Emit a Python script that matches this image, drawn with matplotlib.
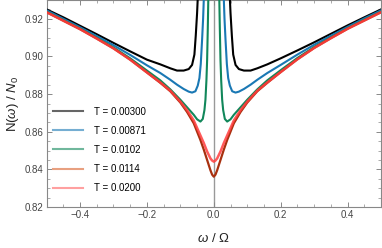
import numpy as np
import matplotlib
matplotlib.use("Agg")
import matplotlib.pyplot as plt
from matplotlib.lines import Line2D
from matplotlib.ticker import MultipleLocator

plt.rcParams['font.family'] = ['Liberation Sans', 'DejaVu Sans']
plt.rcParams['mathtext.fontset'] = 'custom'
plt.rcParams['mathtext.rm'] = 'Liberation Sans'
plt.rcParams['mathtext.it'] = 'Liberation Sans:italic'

# temperatures in the legend
labels = ["T = 0.00300", "T = 0.00871", "T = 0.0102", "T = 0.0114", "T = 0.0200"]
line_colors = ["#000000", "#1a78b4", "#11875a", "#a8300f", "#ff3d3d"]

# values (nan = curve leaves the plot between the peaks)
w_black = [-0.5, -0.45, -0.4, -0.35, -0.3, -0.25, -0.2, -0.16, -0.13, -0.11, -0.09,
           -0.075, -0.065, -0.058, -0.054, -0.05, -0.047, 0.0,
           0.047, 0.05, 0.054, 0.058, 0.065, 0.075, 0.09, 0.11, 0.13, 0.16,
           0.2, 0.25, 0.3, 0.35, 0.4, 0.45, 0.5]
n_black = [0.9250, 0.9208, 0.9163, 0.9118, 0.9072, 0.9027, 0.8983, 0.8958, 0.8937, 0.8925, 0.8925,
           0.8933, 0.8955, 0.9010, 0.9110, 0.9230, 0.9350, np.nan,
           0.9350, 0.9230, 0.9110, 0.9010, 0.8955, 0.8933, 0.8925, 0.8925, 0.8937, 0.8958,
           0.8990, 0.9032, 0.9075, 0.9120, 0.9165, 0.9208, 0.9250]

w_blue = [-0.5, -0.45, -0.4, -0.35, -0.3, -0.25, -0.2, -0.16, -0.13, -0.11, -0.09,
          -0.075, -0.065, -0.055, -0.048, -0.043, -0.039, -0.035, -0.032, -0.029, 0.0,
          0.029, 0.032, 0.035, 0.039, 0.043, 0.048, 0.055, 0.065, 0.075, 0.09,
          0.11, 0.13, 0.16, 0.2, 0.25, 0.3, 0.35, 0.4, 0.45, 0.5]
n_blue = [0.9245, 0.9200, 0.9155, 0.9108, 0.9060, 0.9008, 0.8953, 0.8912, 0.8876, 0.8850, 0.8827,
          0.8813, 0.8808, 0.8815, 0.8845, 0.8885, 0.8960, 0.9090, 0.9200, 0.9350, np.nan,
          0.9350, 0.9200, 0.9090, 0.8960, 0.8885, 0.8845, 0.8815, 0.8808, 0.8813, 0.8827,
          0.8850, 0.8876, 0.8912, 0.8955, 0.9010, 0.9062, 0.9110, 0.9157, 0.9202, 0.9245]

w_green = [-0.5, -0.45, -0.4, -0.35, -0.3, -0.25, -0.2, -0.16, -0.13, -0.1, -0.08,
           -0.06, -0.05, -0.04, -0.033, -0.028, -0.025, -0.022, -0.02, -0.018, -0.016, 0.0,
           0.016, 0.018, 0.02, 0.022, 0.025, 0.028, 0.033, 0.04, 0.05, 0.06,
           0.08, 0.1, 0.13, 0.16, 0.2, 0.25, 0.3, 0.35, 0.4, 0.45, 0.5]
n_green = [0.9238, 0.9193, 0.9148, 0.9099, 0.9048, 0.8990, 0.8925, 0.8873, 0.8825, 0.8770, 0.8730,
           0.8690, 0.8666, 0.8654, 0.8668, 0.8715, 0.8770, 0.8876, 0.8980, 0.9150, 0.9350, np.nan,
           0.9350, 0.9150, 0.8980, 0.8876, 0.8770, 0.8715, 0.8668, 0.8654, 0.8666, 0.8690,
           0.8730, 0.8770, 0.8825, 0.8873, 0.8927, 0.8992, 0.9050, 0.9101, 0.9150, 0.9195, 0.9238]

w_red = [-0.5, -0.45, -0.4, -0.35, -0.3, -0.25, -0.2, -0.16, -0.13, -0.1, -0.08,
         -0.06, -0.04, -0.03, -0.02, -0.01, -0.005, 0.0,
         0.005, 0.01, 0.02, 0.03, 0.04, 0.06, 0.08, 0.1, 0.13, 0.16,
         0.2, 0.25, 0.3, 0.35, 0.4, 0.45, 0.5]
n_red1 = [0.9235, 0.9190, 0.9145, 0.9095, 0.9043, 0.8983, 0.8915, 0.8860, 0.8815, 0.8755, 0.8705,
          0.8645, 0.8556, 0.8505, 0.8450, 0.8395, 0.8372, 0.8361,
          0.8372, 0.8395, 0.8450, 0.8505, 0.8556, 0.8645, 0.8705, 0.8755, 0.8815, 0.8860,
          0.8917, 0.8985, 0.9045, 0.9097, 0.9147, 0.9191, 0.9235]
n_red2 = [0.9235, 0.9190, 0.9145, 0.9095, 0.9043, 0.8983, 0.8915, 0.8862, 0.8818, 0.8760, 0.8715,
          0.8660, 0.8580, 0.8540, 0.8495, 0.8458, 0.8447, 0.8441,
          0.8447, 0.8458, 0.8495, 0.8540, 0.8580, 0.8660, 0.8715, 0.8760, 0.8818, 0.8862,
          0.8917, 0.8985, 0.9045, 0.9097, 0.9147, 0.9191, 0.9235]

fig = plt.figure(figsize=(3.82, 2.48), dpi=100)
ax = fig.add_axes([0.122, 0.1653, 0.8754, 0.8347])

ax.axvline(0, color="#999999", lw=1.0, zorder=1)

ax.plot(w_black, n_black, color=line_colors[0], lw=1.5, zorder=3)
ax.plot(w_blue, n_blue, color=line_colors[1], lw=1.5, zorder=3)
ax.plot(w_green, n_green, color=line_colors[2], lw=1.5, zorder=3)
ax.plot(w_red, n_red1, color=line_colors[3], lw=1.6, zorder=3)
ax.plot(w_red, n_red2, color=line_colors[4], lw=1.8, alpha=0.85, zorder=4)

ax.set_xlim(-0.5, 0.5)
ax.set_ylim(0.82, 0.93)
ax.xaxis.set_minor_locator(MultipleLocator(0.05))
ax.yaxis.set_minor_locator(MultipleLocator(0.005))
ax.set_xticks([-0.4, -0.2, 0.0, 0.2, 0.4])
ax.set_xticklabels(["\u22120.4", "\u22120.2", "0.0", "0.2", "0.4"])
ax.set_yticks([0.82, 0.84, 0.86, 0.88, 0.90, 0.92])
ax.set_yticklabels(["0.82", "0.84", "0.86", "0.88", "0.90", "0.92"])

ax.tick_params(which="both", direction="in", top=True, right=True,
               colors="#888888", labelcolor="#444444", labelsize=7, pad=2.5)
ax.tick_params(which="major", length=3.5, width=0.7)
ax.tick_params(which="minor", length=2, width=0.5)
for s in ax.spines.values():
    s.set_color("#888888")
    s.set_linewidth(0.8)

ax.set_ylabel(r"N($\omega$) / $N_0$", fontsize=9.5, color="#222222", labelpad=2)
ax.set_xlabel(r"$\omega$ / $\Omega$", fontsize=9.5, color="#222222", labelpad=8)

# lighter handles like the original legend
handles = [Line2D([], [], color=c, lw=1.5, alpha=0.6) for c in line_colors]
handles[3] = Line2D([], [], color="#e8a080", lw=1.5)
handles[4] = Line2D([], [], color="#ffa0a0", lw=1.5)
ax.legend(handles, labels, loc="lower left", bbox_to_anchor=(0.0, 0.035), frameon=False,
          fontsize=7, handlelength=3.0, handletextpad=1.2, labelspacing=0.93,
          borderaxespad=0.3)

fig.savefig("out.png", dpi=100)
